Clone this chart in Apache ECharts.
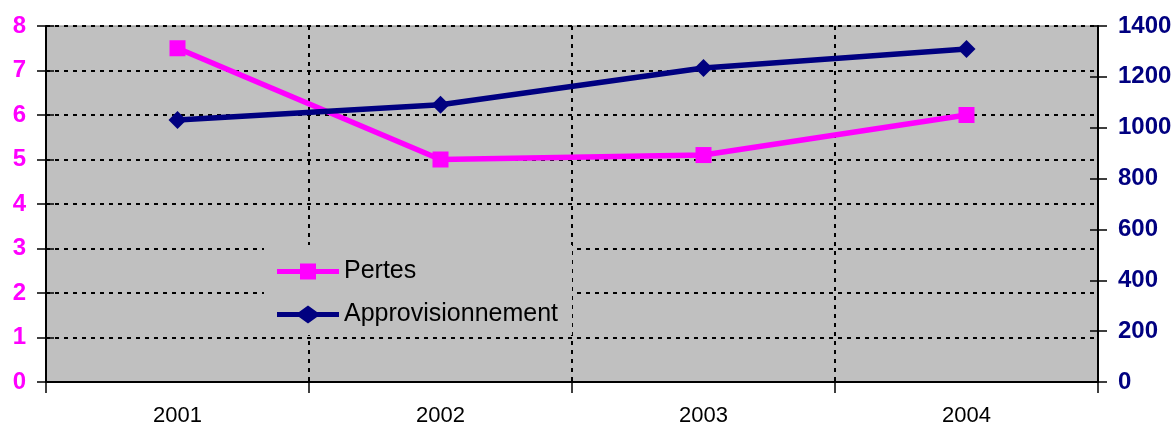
<!DOCTYPE html>
<html>
<head>
<meta charset="utf-8">
<script src="https://cdn.jsdelivr.net/npm/echarts@6/dist/echarts.min.js"></script>
<style>
  html, body { margin: 0; padding: 0; background: #ffffff; }
  #chart { width: 1176px; height: 429px; }
</style>
</head>
<body>
<div id="chart"></div>
<script>
// Years on the category axis
const years = ['2001', '2002', '2003', '2004'];
// Losses (left axis)
const pertes = [7.5, 5.0, 5.1, 6.0];
// Supply (right axis)
const approvisionnement = [1030, 1090, 1235, 1310];

const FONT = 'Arial, "Liberation Sans", sans-serif';
const PINK = '#ff00ff';
const NAVY = '#000080';

const dotted = { color: '#000000', width: 2, type: [4, 5] };

// Legend keys: a thick line with the series marker in the middle
const ICON_SQUARE = 'path://M0,6.5 H23 V1 H39 V6.5 H62 V11.5 H39 V17 H23 V11.5 H0 Z';
const ICON_DIAMOND = 'path://M0,6.5 H22 L31,0 L40,6.5 H62 V11.5 H40 L31,18 L22,11.5 H0 Z';

const chart = echarts.init(document.getElementById('chart'), null, { renderer: 'canvas' });

chart.setOption({
  backgroundColor: '#ffffff',
  animation: false,
  grid: {
    left: 46, right: 78, top: 26, bottom: 47,
    show: true, backgroundColor: '#c0c0c0', borderColor: '#808080', borderWidth: 1
  },
  legend: {
    orient: 'vertical',
    left: 264, top: 245,
    backgroundColor: '#c0c0c0',
    padding: [14, 14, 8, 13],
    itemWidth: 62, itemHeight: 18,
    itemGap: 18,
    textStyle: { fontFamily: FONT, fontSize: 25, color: '#000000', padding: [0, 0, 0, 0] },
    data: [
      { name: 'Pertes', icon: ICON_SQUARE },
      { name: 'Approvisionnement', icon: ICON_DIAMOND }
    ]
  },
  xAxis: {
    type: 'category',
    data: years,
    boundaryGap: true,
    axisLine: { lineStyle: { color: '#000000', width: 2 } },
    axisTick: { show: true, length: 11, lineStyle: { color: '#000000', width: 1.5 } },
    axisLabel: { fontFamily: FONT, fontSize: 22, color: '#000000', margin: 23 },
    splitLine: { show: true, lineStyle: dotted }
  },
  yAxis: [
    {
      type: 'value', position: 'left', min: 0, max: 8, interval: 1,
      axisLine: { show: true, lineStyle: { color: '#000000', width: 2 } },
      axisTick: { show: true, length: 9, lineStyle: { color: '#000000', width: 1.5 } },
      axisLabel: { fontFamily: FONT, fontSize: 24, fontWeight: 'bold', color: PINK, margin: 20 },
      splitLine: { show: true, lineStyle: dotted }
    },
    {
      type: 'value', position: 'right', min: 0, max: 1400, interval: 200,
      axisLine: { show: true, lineStyle: { color: '#000000', width: 2 } },
      axisTick: { show: true, length: 9, lineStyle: { color: '#000000', width: 1.5 } },
      axisLabel: {
        fontFamily: FONT, fontSize: 24, fontWeight: 'bold', color: NAVY, margin: 20,
        formatter: (v) => String(v)
      },
      splitLine: { show: false }
    },
    {
      // inner half of the crossing ticks on the left axis
      type: 'value', position: 'left', min: 0, max: 8, interval: 1,
      axisLine: { show: false },
      axisTick: { show: true, inside: true, length: 8, lineStyle: { color: '#000000', width: 1.5 } },
      axisLabel: { show: false },
      splitLine: { show: false }
    },
    {
      // inner half of the crossing ticks on the right axis
      type: 'value', position: 'right', min: 0, max: 1400, interval: 200,
      axisLine: { show: false },
      axisTick: { show: true, inside: true, length: 8, lineStyle: { color: '#000000', width: 1.5 } },
      axisLabel: { show: false },
      splitLine: { show: false }
    }
  ],
  series: [
    {
      name: 'Pertes',
      type: 'line',
      yAxisIndex: 0,
      data: pertes,
      symbol: 'rect',
      symbolSize: 16,
      color: PINK,
      lineStyle: { color: PINK, width: 5.5 },
      itemStyle: { color: PINK },
      z: 5
    },
    {
      name: 'Approvisionnement',
      type: 'line',
      yAxisIndex: 1,
      data: approvisionnement,
      symbol: 'diamond',
      symbolSize: 18,
      color: NAVY,
      lineStyle: { color: NAVY, width: 5.5 },
      itemStyle: { color: NAVY },
      z: 5
    }
  ]
});
</script>
</body>
</html>
